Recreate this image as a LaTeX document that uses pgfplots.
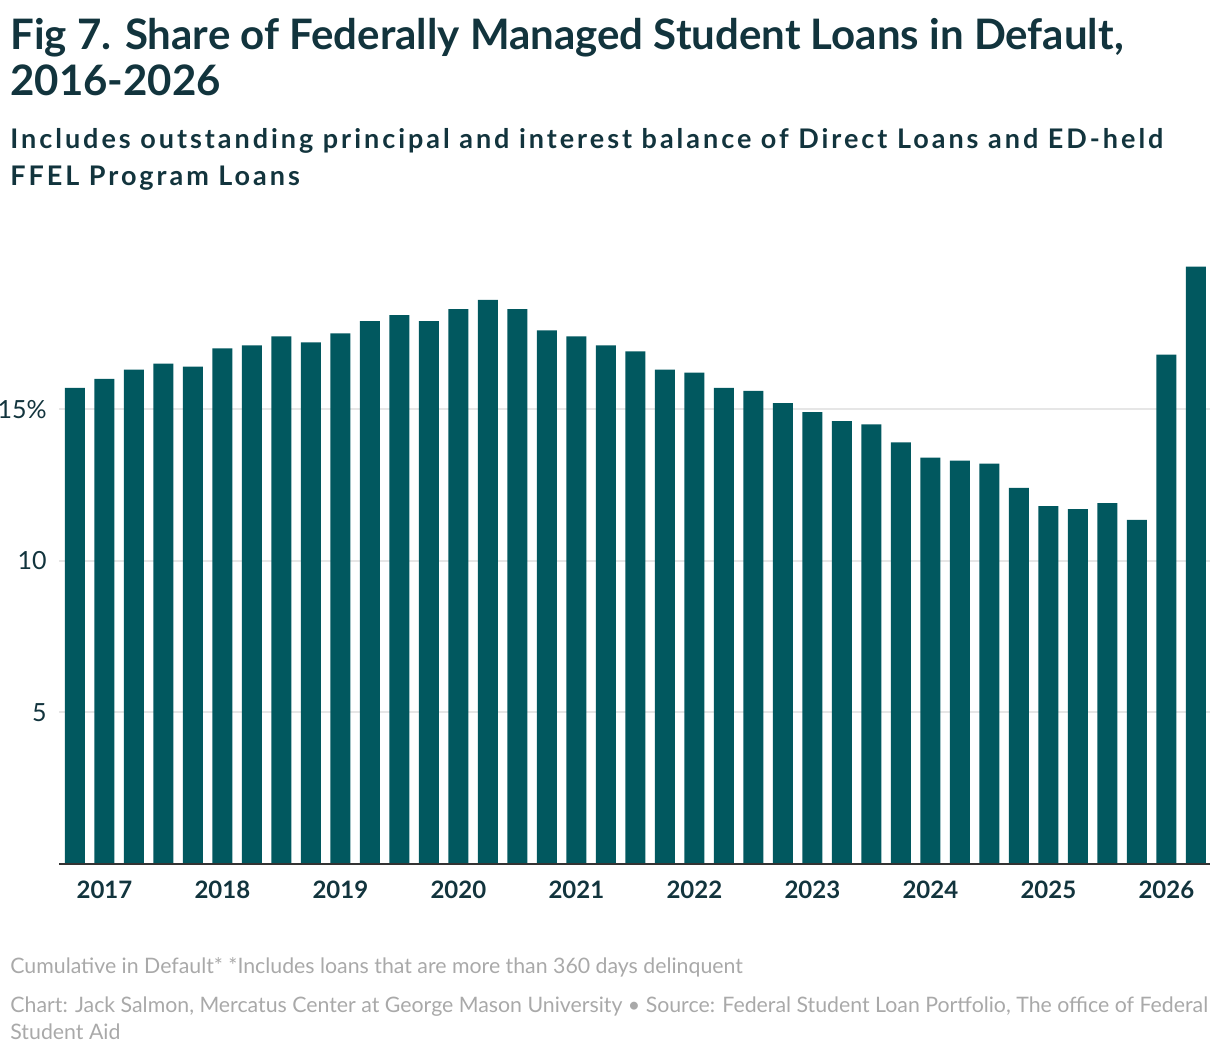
\documentclass[border=0pt]{standalone}
\usepackage{fontspec}
\setmainfont{Lato}
\newfontfamily\subfont[LetterSpace=11]{Lato}
\usepackage{pgfplots}
\pgfplotsset{compat=1.18}
\definecolor{barc}{HTML}{01585F}
\definecolor{ttl}{HTML}{12343D}
\definecolor{foot}{HTML}{A9A9A9}
\definecolor{gridc}{HTML}{E6E6E6}
\definecolor{basec}{HTML}{333333}
\pgfplotstableread{
x y
0 15.7
1 16.0
2 16.3
3 16.5
4 16.4
5 17.0
6 17.1
7 17.4
8 17.2
9 17.5
10 17.9
11 18.1
12 17.9
13 18.3
14 18.6
15 18.3
16 17.6
17 17.4
18 17.1
19 16.9
20 16.3
21 16.2
22 15.7
23 15.6
24 15.2
25 14.9
26 14.6
27 14.5
28 13.9
29 13.4
30 13.3
31 13.2
32 12.4
33 11.8
34 11.7
35 11.9
36 11.35
37 16.8
38 19.7
}\datatable
\begin{document}
\begin{tikzpicture}
\path[use as bounding box] (0,0) rectangle (610pt,-528pt);
\node[anchor=base west, inner sep=0, text=ttl, font=\fontsize{21}{23}\selectfont\bfseries] at (5pt,-24.5pt) {Fig 7. Share of Federally Managed Student Loans in Default,};
\node[anchor=base west, inner sep=0, text=ttl, font=\fontsize{21}{23}\selectfont\bfseries] at (5pt,-47.5pt) {2016-2026};
\node[anchor=base west, inner sep=0, text=ttl, font=\fontsize{13.5}{15}\subfont\bfseries] at (5pt,-74pt) {Includes outstanding principal and interest balance of Direct Loans and ED-held};
\node[anchor=base west, inner sep=0, text=ttl, font=\fontsize{13.5}{15}\subfont\bfseries] at (5pt,-92.5pt) {FFEL Program Loans};
\node[anchor=base west, inner sep=0, text=foot, font=\fontsize{10.65}{12}\selectfont] at (5pt,-486.5pt) {Cumulative in Default* *Includes loans that are more than 360 days delinquent};
\node[anchor=base west, inner sep=0, text=foot, font=\fontsize{10.65}{12}\selectfont] at (5pt,-506pt) {Chart: Jack Salmon, Mercatus Center at George Mason University • Source: Federal Student Loan Portfolio, The office of Federal};
\node[anchor=base west, inner sep=0, text=foot, font=\fontsize{10.65}{12}\selectfont] at (5pt,-519.5pt) {Student Aid};
\begin{axis}[
  at={(29.5pt,-432pt)}, anchor=south west,
  scale only axis, width=575.5pt, height=306.3pt,
  xmin=-0.54, xmax=38.48, ymin=0, ymax=20.2,
  axis line style={draw=none},
  major tick length=0pt,
  ytick={5,10,15}, yticklabels={5,10,15\%},
  xtick={1,5,9,13,17,21,25,29,33,37},
  xticklabels={2017,2018,2019,2020,2021,2022,2023,2024,2025,2026},
  ymajorgrids, grid style={gridc, line width=1pt},
  yticklabel style={anchor=east, inner sep=0pt, xshift=-6pt, text=ttl, font=\fontsize{12.5}{14}\selectfont},
  xticklabel style={anchor=base, inner sep=0pt, yshift=-17pt, text=ttl, font=\fontsize{12}{14}\selectfont\bfseries},
  clip=false,
]
\addplot[ybar, bar width=10pt, fill=barc, draw=none] table[x=x,y=y] {\datatable};
\draw[basec, line width=0.9pt] (axis cs:-0.54,0) -- (axis cs:38.48,0);
\end{axis}
\end{tikzpicture}
\end{document}
